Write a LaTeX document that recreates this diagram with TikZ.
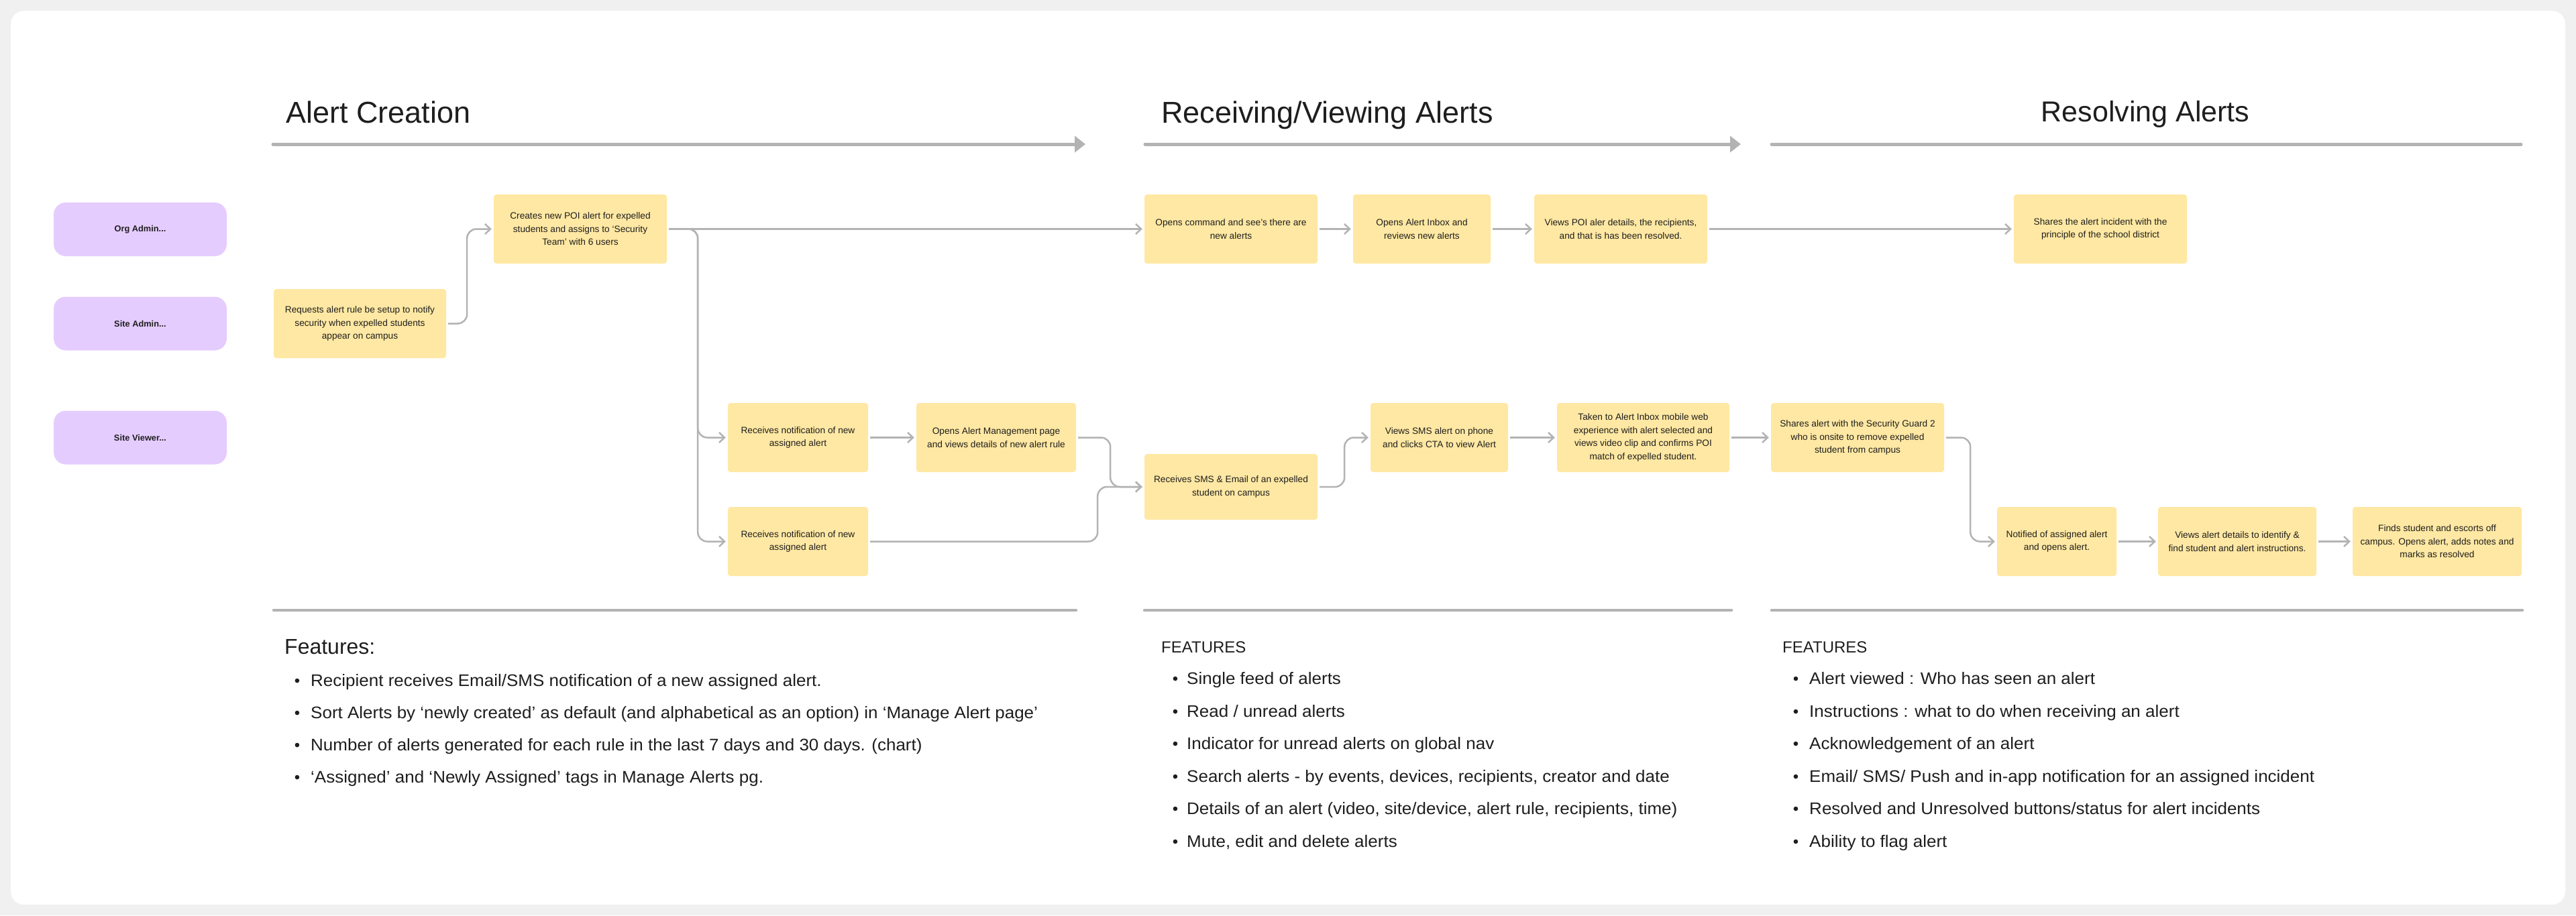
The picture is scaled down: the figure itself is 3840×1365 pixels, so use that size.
\documentclass[tikz,border=0pt]{standalone}
\usepackage{fontspec}
\setmainfont{Liberation Sans}
\newfontfamily\wideface[FakeStretch=1.04]{Liberation Sans}
\usetikzlibrary{arrows.meta}
\definecolor{stickyY}{HTML}{FFE8A3}
\definecolor{roleP}{HTML}{E5CCFF}
\definecolor{lnG}{HTML}{B3B3B3}
\definecolor{txtC}{HTML}{1E1E1E}
\definecolor{frameG}{HTML}{F0F0F0}
\begin{document}
\begin{tikzpicture}[x=1pt,y=-1pt,
  stickybox/.style={rectangle,rounded corners=4pt,fill=stickyY,minimum height=103pt,align=center,inner sep=0pt,text=txtC,font=\fontsize{13.7}{19.5}\selectfont},
  rolebox/.style={rectangle,rounded corners=18pt,fill=roleP,minimum width=258pt,minimum height=80pt,inner sep=0pt,text=txtC,font=\bfseries\fontsize{12.8}{15}\selectfont},
  conn/.style={draw=lnG,line width=2.5pt,rounded corners=14pt,-{Straight Barb[length=8pt,width=15pt]},shorten >=3pt,shorten <=3pt},
  hdrline/.style={draw=lnG,line width=5pt,line cap=round},
  hdrtitle/.style={anchor=base west,inner sep=0pt,text=txtC,font=\fontsize{45}{52}\selectfont},
  feathead/.style={anchor=base west,inner sep=0pt,text=txtC},
  featitem/.style={anchor=base west,inner sep=0pt,text=txtC,font=\wideface\fontsize{25}{29}\selectfont},
  featbullet/.style={anchor=base,inner sep=0pt,text=txtC,font=\fontsize{24}{29}\selectfont},
  sepline/.style={draw=lnG,line width=4.5pt,line cap=round}
]
\useasboundingbox (0,0) rectangle (3840,1365);
\fill[frameG] (0,0) rectangle (3840,1365);
\fill[white,rounded corners=20pt] (16,16) rectangle (3824,1349);

% headers
\node[hdrtitle] (h1) at (426,183) {Alert Creation};
\node[hdrtitle] (h2) at (1731,183) {Receiving/Viewing Alerts};
\node[hdrtitle,anchor=base,font=\fontsize{43}{52}\selectfont] (h3) at (3198,181) {Resolving Alerts};
\coordinate (a1s) at (407,215); \coordinate (a1e) at (1618,215);
\coordinate (a2s) at (1707,215); \coordinate (a2e) at (2595,215);
\coordinate (a3s) at (2641,215); \coordinate (a3e) at (3758,215);
\draw[hdrline,-{Triangle[length=16pt,width=24pt]}] (a1s) -- (a1e);
\draw[hdrline,-{Triangle[length=16pt,width=24pt]}] (a2s) -- (a2e);
\draw[hdrline] (a3s) -- (a3e);

% roles
\node[rolebox] (org) at (209,342) {Org Admin...};
\node[rolebox] (sadm) at (209,482.5) {Site Admin...};
\node[rolebox] (sview) at (209,652.5) {Site Viewer...};

% stickies
\node[stickybox,minimum width=257pt] (req) at (536.5,482.5) {Requests alert rule be setup to notify\\security when expelled students\\appear on campus};
\node[stickybox,minimum width=258pt] (crt) at (865,341.5) {Creates new POI alert for expelled\\students and assigns to ‘Security\\Team’ with 6 users};
\node[stickybox,minimum width=209pt] (rec1) at (1189.5,652.5) {Receives notification of new\\assigned alert};
\node[stickybox,minimum width=238pt] (mgmt) at (1485,652.5) {Opens Alert Management page\\and views details of new alert rule};
\node[stickybox,minimum width=209pt] (rec2) at (1189.5,807.5) {Receives notification of new\\assigned alert};
\node[stickybox,minimum width=258pt] (cmd) at (1835,341.5) {Opens command and see’s there are\\new alerts};
\node[stickybox,minimum width=205pt] (inbox) at (2119.5,341.5) {Opens Alert Inbox and\\reviews new alerts};
\node[stickybox,minimum width=258pt] (poi) at (2416,341.5) {Views POI aler details, the recipients,\\and that is has been resolved.};
\node[stickybox,minimum width=258pt] (shr) at (3131,341.5) {Shares the alert incident with the\\principle of the school district};
\node[stickybox,minimum width=258pt,minimum height=98pt] (sms) at (1835,726) {Receives SMS \& Email of an expelled\\student on campus};
\node[stickybox,minimum width=205pt] (vsms) at (2145.5,652.5) {Views SMS alert on phone\\and clicks CTA to view Alert};
\node[stickybox,minimum width=257pt] (taken) at (2449.5,652.5) {Taken to Alert Inbox mobile web\\experience with alert selected and\\views video clip and confirms POI\\match of expelled student.};
\node[stickybox,minimum width=258pt] (sg) at (2769,652.5) {Shares alert with the Security Guard 2\\who is onsite to remove expelled\\student from campus};
\node[stickybox,minimum width=178pt] (notif) at (3066,807.5) {Notified of assigned alert\\and opens alert.};
\node[stickybox,minimum width=236pt] (vdet) at (3335,807.5) {Views alert details to identify \&\\find student and alert instructions.};
\node[stickybox,minimum width=252pt] (finds) at (3633,807.5) {Finds student and escorts off\\campus. Opens alert, adds notes and\\marks as resolved};

% connectors
\draw[conn] (req.east) -- ++(31,0) |- (crt.west);
\draw[conn] (crt.east) -- (cmd.west);
\draw[conn] (crt.east) -- ++(46,0) |- (rec1.west);
\draw[conn] (crt.east) -- ++(46,0) |- (rec2.west);
\draw[conn] (rec1.east) -- (mgmt.west);
\draw[conn] (mgmt.east) -- ++(51,0) |- (sms.west);
\draw[conn] (rec2.east) -- ++(342,0) |- (sms.west);
\draw[conn] (cmd.east) -- (inbox.west);
\draw[conn] (inbox.east) -- (poi.west);
\draw[conn] (poi.east) -- (shr.west);
\draw[conn] (sms.east) -- ++(40,0) |- (vsms.west);
\draw[conn] (vsms.east) -- (taken.west);
\draw[conn] (taken.east) -- (sg.west);
\draw[conn] (sg.east) -- ++(39,0) |- (notif.west);
\draw[conn] (notif.east) -- (vdet.west);
\draw[conn] (vdet.east) -- (finds.west);

% feature separators
\coordinate (s1s) at (408,910); \coordinate (s1e) at (1604,910);
\coordinate (s2s) at (1706,910); \coordinate (s2e) at (2581,910);
\coordinate (s3s) at (2641,910); \coordinate (s3e) at (3760,910);
\draw[sepline] (s1s) -- (s1e);
\draw[sepline] (s2s) -- (s2e);
\draw[sepline] (s3s) -- (s3e);

% features 1
\node[feathead,font=\fontsize{32}{38}\selectfont] (fh1) at (424,975) {Features:};
\foreach \t [count=\i] in {{Recipient receives Email/SMS notification of a new assigned alert.},{Sort Alerts by ‘newly created’ as default (and alphabetical as an option) in ‘Manage Alert page’},{Number of alerts generated for each rule in the last 7 days and 30 days. (chart)},{‘Assigned’ and ‘Newly Assigned’ tags in Manage Alerts pg.}}{
  \pgfmathsetmacro{\yy}{1023+48.3*(\i-1)}
  \node[featbullet] (fb1-\i) at (443,\yy) {•};
  \node[featitem] (fi1-\i) at (463,\yy) {\t};
}
% features 2
\node[feathead,font=\fontsize{24}{29}\selectfont] (fh2) at (1731,973) {FEATURES};
\foreach \t [count=\i] in {{Single feed of alerts},{Read / unread alerts},{Indicator for unread alerts on global nav},{Search alerts - by events, devices, recipients, creator and date},{Details of an alert (video, site/device, alert rule, recipients, time)},{Mute, edit and delete alerts}}{
  \pgfmathsetmacro{\yy}{1020.5+48.5*(\i-1)}
  \node[featbullet] (fb2-\i) at (1752,\yy) {•};
  \node[featitem] (fi2-\i) at (1769,\yy) {\t};
}
% features 3
\node[feathead,font=\fontsize{24}{29}\selectfont] (fh3) at (2657,973) {FEATURES};
\foreach \t [count=\i] in {{Alert viewed : Who has seen an alert},{Instructions : what to do when receiving an alert},{Acknowledgement of an alert},{Email/ SMS/ Push and in-app notification for an assigned incident},{Resolved and Unresolved buttons/status for alert incidents},{Ability to flag alert}}{
  \pgfmathsetmacro{\yy}{1020.5+48.5*(\i-1)}
  \node[featbullet] (fb3-\i) at (2677,\yy) {•};
  \node[featitem] (fi3-\i) at (2697,\yy) {\t};
}
\end{tikzpicture}
\end{document}
